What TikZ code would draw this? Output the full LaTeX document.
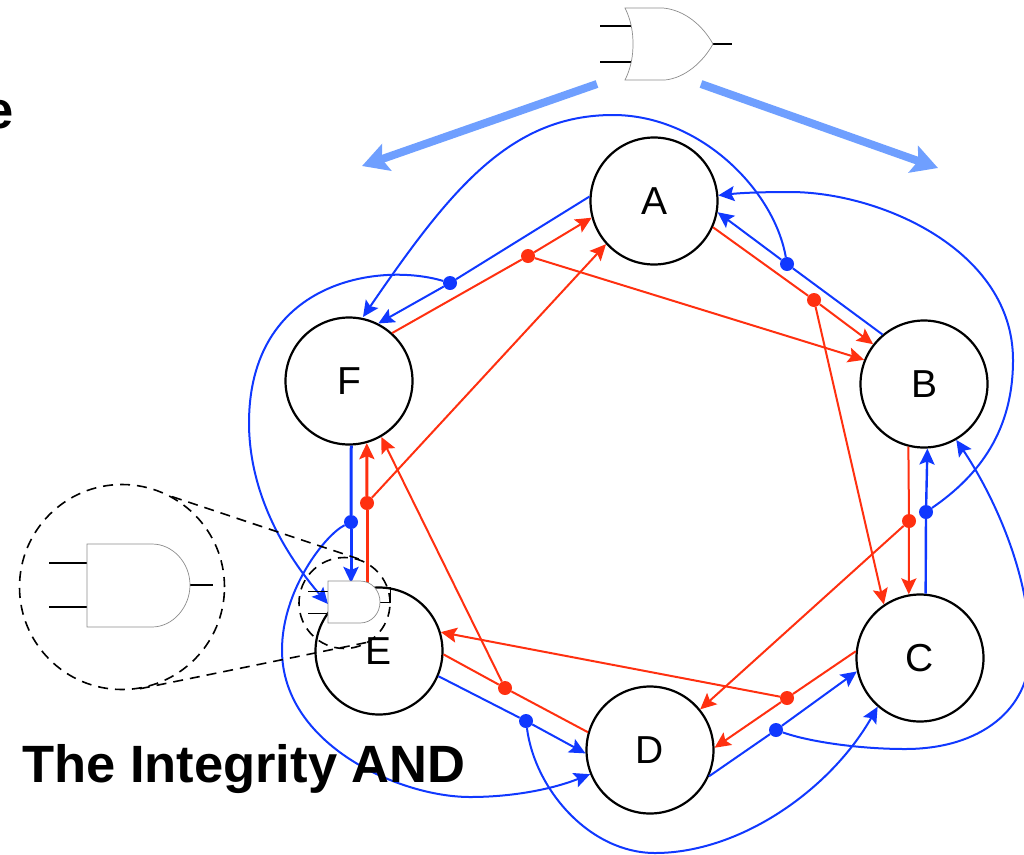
\documentclass[tikz,border=0pt]{standalone}
\usepackage{fontspec}
\setmainfont{Liberation Sans}
\usetikzlibrary{arrows.meta}
\definecolor{netblue}{HTML}{1038FF}
\definecolor{netred}{HTML}{FF3010}
\definecolor{fanblue}{HTML}{6F9FFF}
\tikzset{
  station/.style={circle,draw=black,line width=2.2pt,fill=white,minimum size=127pt,inner sep=0pt,font=\fontsize{39}{39}\selectfont},
  reddot/.style={circle,fill=netred,minimum size=14pt,inner sep=0pt},
  bluedot/.style={circle,fill=netblue,minimum size=14pt,inner sep=0pt},
  redline/.style={draw=netred,line width=2pt,-{Stealth[length=16pt,width=15pt,inset=3pt]}},
  blueline/.style={draw=netblue,line width=2pt,-{Stealth[length=16pt,width=15pt,inset=3pt]}},
  redplain/.style={draw=netred,line width=2pt},
  blueplain/.style={draw=netblue,line width=2pt},
  fanarrow/.style={draw=fanblue,line width=8pt,-{Stealth[length=26pt,width=28pt,inset=5pt]}},
  gateshape/.style={draw=black!45,line width=0.7pt,fill=white},
  gatepin/.style={draw=black,line width=2pt},
  zoomring/.style={circle,draw=black,line width=1.6pt,dash pattern=on 10pt off 7pt,inner sep=0pt},
  zoomlink/.style={draw=black,line width=1.6pt,dash pattern=on 10pt off 7pt},
  headline/.style={font=\bfseries\fontsize{52.5}{52.5}\selectfont},
}
\begin{document}
\begin{tikzpicture}[x=1pt,y=-1pt]
        \useasboundingbox (0,0) rectangle (1024,854);
        \clip (0,0) rectangle (1024,854);
        % stations
        \node[station] (A) at (654,201) {A};
        \node[station] (B) at (924,384) {B};
        \node[station] (C) at (920,658) {C};
        \node[station] (D) at (650,750) {D};
        \node[station] (E) at (379,651) {E};
        \node[station] (F) at (349,381) {F};
        % fan out points
        \node[reddot] (r1) at (528,256) {};
        \node[reddot] (r2) at (814,300) {};
        \node[reddot] (r3) at (909,521) {};
        \node[reddot] (r4) at (787,698) {};
        \node[reddot] (r5) at (505,688) {};
        \node[reddot] (r6) at (367,503) {};
        \node[bluedot] (b1) at (787,264) {};
        \node[bluedot] (b2) at (450,283) {};
        \node[bluedot] (b3) at (351,522) {};
        \node[bluedot] (b4) at (526,721) {};
        \node[bluedot] (b5) at (776,730) {};
        \node[bluedot] (b6) at (926,512) {};
        \coordinate (gateTopR) at (367,583);
        \coordinate (gateTopB) at (351,583);
        \coordinate (gatePinB) at (328,604);
        % red ring
        \draw[redplain] (F.48) -- (r1);
        \draw[redline] (r1) -- (A.195);
        \draw[redline] (r1) -- (B.158);
        \draw[redplain] (A.-24) -- (r2);
        \draw[redline] (r2) -- (B.142);
        \draw[redline] (r2) -- (C.124);
        \draw[redplain] (B.-104) -- (r3);
        \draw[redline] (r3) -- (C.100);
        \draw[redline] (r3) -- (D.39);
        \draw[redplain] (C.174) -- (r4);
        \draw[redline] (r4) -- (D.2);
        \draw[redline] (r4) -- (E.17);
        \draw[redplain] (D.164) -- (r5);
        \draw[redplain] (r5) -- (E.-3);
        \draw[redline] (r5) -- (F.-60);
        \draw[redplain,line width=3pt] (gateTopR) -- (r6);
        \draw[redline,line width=3pt] (r6) -- (F.-74);
        \draw[redline] (r6) -- (A.222);
        % blue ring
        \draw[blueplain] (B.130) -- (b1);
        \draw[blueline] (b1) -- (A.-10);
        \draw[blueline] (b1) .. controls (774,190) and (700,115) .. (613,115) .. controls (510,115) and (450,190) .. (363,317);
        \draw[blueplain] (A.176) -- (b2);
        \draw[blueline] (b2) -- (F.63);
        \draw[blueline] (b2) .. controls (380,262) and (248,280) .. (249,425) .. controls (250,500) and (290,560) .. (gatePinB);
        \draw[blueplain,line width=3pt] (F.-88) -- (b3);
        \draw[blueline,line width=3pt] (b3) -- (gateTopB);
        \draw[blueline] (b3) .. controls (325,535) and (282,590) .. (282,650) .. controls (282,745) and (400,797) .. (470,797) .. controls (510,797) and (550,790) .. (D.202);
        \draw[blueplain] (E.-23) -- (b4);
        \draw[blueline] (b4) -- (D.183);
        \draw[blueline] (b4) .. controls (535,790) and (590,853) .. (655,853) .. controls (740,853) and (830,790) .. (C.229);
        \draw[blueplain] (D.-24) -- (b5);
        \draw[blueline] (b5) -- (C.192);
        \draw[blueline] (b5) .. controls (810,742) and (860,749) .. (905,749) .. controls (980,749) and (1030,710) .. (1030,650) .. controls (1030,570) and (990,490) .. (B.-60);
        \draw[blueplain,line width=2.4pt] (C.85) -- (b6);
        \draw[blueline,line width=2.4pt] (b6) -- (B.-87);
        \draw[blueline] (b6) .. controls (980,475) and (1013,430) .. (1013,360) .. controls (1013,250) and (880,192) .. (790,192) .. controls (760,192) and (740,193) .. (A.5);
        % gate inside E
        \draw[gatepin,line width=1pt] (373,587) -- (390,587) -- (390,602) -- (379,602);
        \draw[gatepin,line width=1pt] (308,591) -- (328,591) (308,613) -- (328,613);
        \draw[gateshape] (328,581) -- (360,581) .. controls (372,581) and (380,591) .. (380,602) .. controls (380,613) and (372,623) .. (360,623) -- (328,623) -- cycle;
        % enlarged gate
        \draw[gatepin] (49,563) -- (87,563) (49,607) -- (87,607) (190,585) -- (213,585);
        \draw[gateshape] (87,544) -- (152,544) .. controls (173,544) and (190,563) .. (190,585) .. controls (190,607) and (173,627) .. (152,627) -- (87,627) -- cycle;
        \node[zoomring,minimum size=205pt] (bigring) at (122,587) {};
        \node[zoomring,minimum size=91pt] (smallring) at (344.5,603) {};
        \draw[zoomlink] (bigring.61) -- (smallring.72);
        \draw[zoomlink] (bigring.-80) -- (smallring.-57);
        % or gate on top
        \draw[gatepin] (600,26) -- (631,26) (600,62) -- (631,62) (713,44) -- (732,44);
        \draw[gateshape] (625,8) -- (663,8) .. controls (685,10) and (703,26) .. (713,44) .. controls (703,62) and (685,78) .. (665,80) -- (625,80) .. controls (631,68) and (633,56) .. (633,44) .. controls (633,32) and (631,20) .. cycle;
        \coordinate (fanL) at (597,84);
        \coordinate (fanR) at (701,84);
        \coordinate (fanLend) at (362,166);
        \coordinate (fanRend) at (938,168);
        \draw[fanarrow] (fanL) -- (fanLend);
        \draw[fanarrow] (fanR) -- (fanRend);
        % text
        \node[headline,anchor=base west,inner sep=0pt] (title) at (22,782) {The Integrity AND};
        \node[headline,anchor=base east,inner sep=0pt] (cutoff) at (14,128) {e};
\end{tikzpicture}
\end{document}
